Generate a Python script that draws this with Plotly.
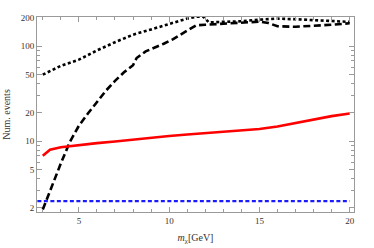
import plotly.graph_objects as go

# Data
mx_dotted = [3, 3.5, 4, 5, 6, 7, 8, 9, 10, 11, 11.5, 11.9, 12.2, 13, 14, 15, 16, 17, 18, 19, 20]
ev_dotted = [50, 56, 62, 72, 90, 110, 132, 150, 172, 195, 204, 204, 178, 180, 183, 190, 195, 192, 188, 184, 180]

mx_dashed = [3, 3.5, 4, 4.5, 5, 5.5, 6, 6.5, 7, 7.5, 8, 8.2, 8.7, 9.2, 9.7, 10.2, 10.7, 11.5, 12, 13, 14, 15, 15.5, 16, 17, 18, 19, 20]
ev_dashed = [1.9, 3.4, 5.8, 9.8, 14.5, 19.5, 25.5, 34, 43, 53, 63, 75, 88, 96, 106, 118, 134, 166, 168, 172, 177, 181, 175, 162, 160, 163, 168, 174]

mx_red = [3, 3.4, 4, 5, 6, 7, 8, 9, 10, 11, 12, 13, 14, 15, 16, 17, 18, 19, 20]
ev_red = [7.0, 8.1, 8.6, 9.1, 9.5, 9.9, 10.4, 10.9, 11.3, 11.7, 12.1, 12.5, 12.9, 13.4, 14.2, 15.5, 17.0, 18.3, 19.5]

mx_blue = [2.7, 20]
ev_blue = [2.33, 2.33]

y_ticks = [2, 5, 10, 20, 50, 100, 200]
y_minor = [3, 4, 6, 7, 8, 9, 30, 40, 60, 70, 80, 90]
x_ticks = [5, 10, 15, 20]
x_minor = [3, 4, 6, 7, 8, 9, 11, 12, 13, 14, 16, 17, 18, 19]

fig = go.Figure()
fig.add_trace(go.Scatter(x=mx_blue, y=ev_blue, mode="lines",
                         line=dict(color="#1a1aff", width=2.2, dash="4px,2.5px")))
fig.add_trace(go.Scatter(x=mx_dashed, y=ev_dashed, mode="lines",
                         line=dict(color="black", width=2.6, dash="7px,3.5px")))
fig.add_trace(go.Scatter(x=mx_dotted, y=ev_dotted, mode="lines",
                         line=dict(color="black", width=2.6, dash="3px,2.5px")))
fig.add_trace(go.Scatter(x=mx_red, y=ev_red, mode="lines",
                         line=dict(color="#ff0000", width=2.6)))

axis_common = dict(showline=True, linecolor="#9a9a9a", linewidth=1, mirror="allticks",
                   ticks="inside", tickcolor="#9a9a9a", showgrid=False, zeroline=False,
                   automargin=False,
                   tickfont=dict(family="Liberation Serif", size=9, color="#333"))

fig.update_xaxes(range=[2.68, 20.24], tickvals=x_ticks, ticklen=5,
                 minor=dict(tickvals=x_minor, ticks="inside", ticklen=3, tickcolor="#9a9a9a"),
                 title=dict(text="<i>m</i><sub>χ</sub>[GeV]", standoff=9,
                            font=dict(family="Liberation Serif", size=10, color="#333")),
                 **axis_common)
fig.update_yaxes(type="log", range=[0.252, 2.307], tickvals=y_ticks, ticktext=[str(v) for v in y_ticks],
                 ticklen=5,
                 minor=dict(tickvals=y_minor, ticks="inside", ticklen=3, tickcolor="#9a9a9a"),
                 title=dict(text="Num. events", standoff=8,
                            font=dict(family="Liberation Serif", size=10, color="#333")),
                 **axis_common)

fig.update_layout(width=374, height=248, showlegend=False,
                  margin=dict(l=37, r=20, t=17, b=36),
                  plot_bgcolor="white", paper_bgcolor="white")

fig.write_html("out.html", config={"displayModeBar": False},
               post_script="document.body.style.margin='0';")
